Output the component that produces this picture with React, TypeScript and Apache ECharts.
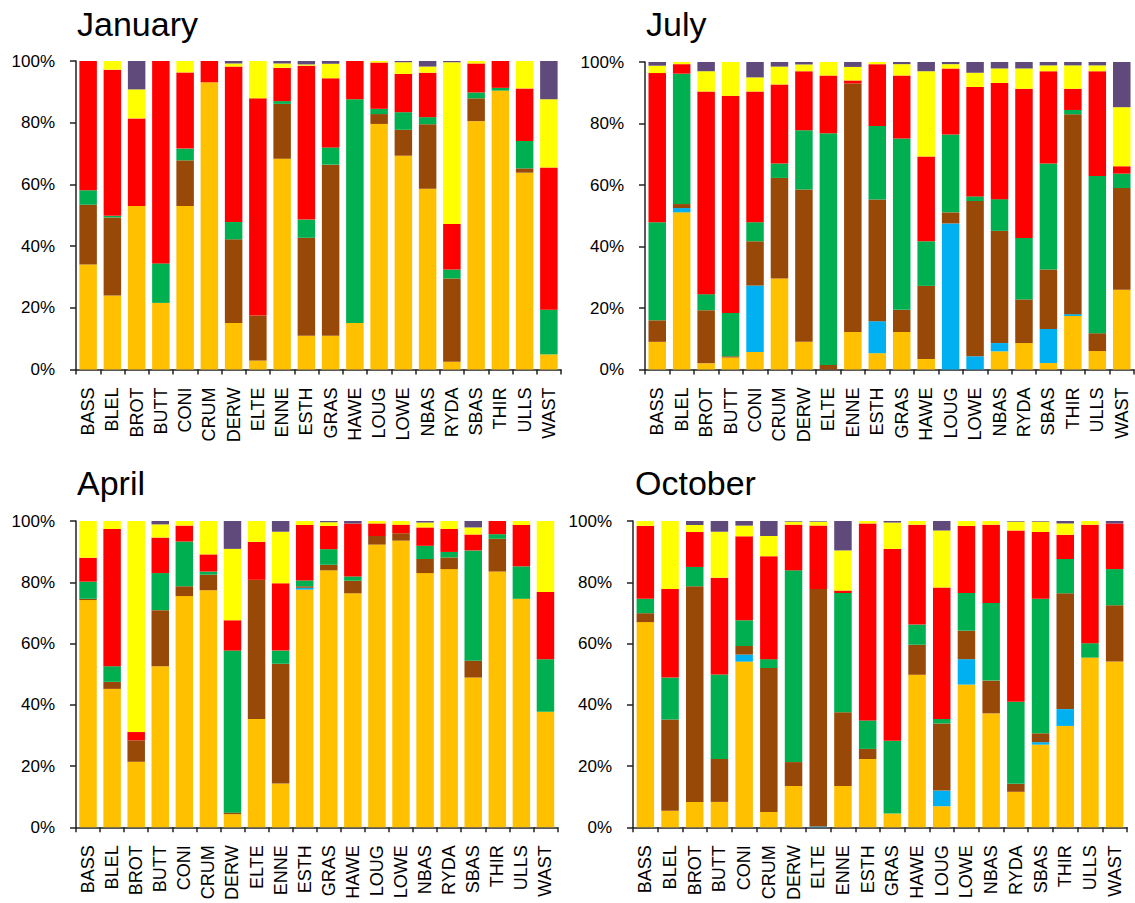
import React, { useEffect, useRef } from "react";
import * as echarts from "echarts";

const categories = ["BASS","BLEL","BROT","BUTT","CONI","CRUM","DERW","ELTE","ENNE","ESTH","GRAS","HAWE","LOUG","LOWE","NBAS","RYDA","SBAS","THIR","ULLS","WAST"];
const monthTitles = ["January", "July", "April", "October"];
const yTicks = [0, 20, 40, 60, 80, 100];
const seriesColors = ["#FFC000", "#00B0F0", "#984807", "#00B050", "#FF0000", "#FFFF00", "#604A7B"];

// January (segment shares, %)
const janOrange = [34,24,53,21.6,53,93.1,15.1,2.9,68.3,10.9,10.9,15.1,79.6,69.3,58.6,2.5,80.5,90.4,63.8,4.9];
const janBlue   = [0,0,0,0,0,0,0,0,0,0,0,0,0,0,0,0,0,0,0,0];
const janBrown  = [19.4,25.3,0,0,14.8,0,27.1,14.6,17.8,31.8,55.5,0,3.2,8.4,20.9,27,7.4,0,1.4,0];
const janGreen  = [4.7,0.5,0,12.8,3.8,0,5.6,0,0.9,5.9,5.6,72.5,1.7,5.7,2.3,2.9,1.9,0.9,8.9,14.5];
const janRed    = [41.9,47.4,28.4,65.6,24.7,6.9,50.4,70.4,10.8,49.9,22.4,12.4,15,12.4,14.4,14.8,9.4,8.7,17,46.1];
const janYellow = [0,2.8,9.4,0,3.7,0,1,12.1,1.4,0.4,4.7,0,0.5,3.8,2,52.4,0.8,0,8.9,22.1];
const janPurple = [0,0,9.2,0,0,0,0.8,0,0.8,1.1,0.9,0,0,0.4,1.8,0.4,0,0,0,12.4];

// July
const julOrange = [9,51.1,2,3.9,5.7,29.6,9,0,12.2,5.3,12.2,3.4,0,0,5.9,8.6,2.1,17.4,6,25.9];
const julBlue   = [0,1.4,0,0,21.6,0,0,0,0,10.4,0,0,47.5,4.3,2.7,0,11.1,0.6,0,0];
const julBrown  = [7,1.3,17.3,0.4,14.4,32.7,49.5,1.5,80.8,39.6,7.2,23.8,3.6,50.5,36.5,14.2,19.3,65,5.8,33.1];
const julGreen  = [31.9,42.4,5.2,14.1,6.2,4.7,19.3,75.3,0,23.9,55.7,14.5,25.3,1.5,10.3,20,34.5,1.4,51.1,4.7];
const julRed    = [48.5,3.1,65.9,70.6,42.5,25.7,19.2,18.8,1,20.1,20.5,27.6,21.5,35.6,37.8,48.5,30,6.9,34.1,2.4];
const julYellow = [2.4,0.7,6.6,11,4.6,5.8,2.2,4.4,4.4,0.7,3.7,27.7,1.4,4.6,4.7,6.6,1.9,7.6,1.9,19.2];
const julPurple = [1.2,0,3,0,5,1.5,0.8,0,1.6,0,0.7,3,0.7,3.5,2.1,2.1,1.1,1.1,1.1,14.7];

// April
const aprOrange = [74.2,45.2,21.4,52.6,75.5,77.4,4.3,35.4,14.3,77.6,83.9,76.4,92.3,93.6,83,84.3,48.9,83.5,74.6,37.7];
const aprBlue   = [0,0,0,0,0,0,0,0,0,0.6,0,0,0,0,0,0,0,0,0,0];
const aprBrown  = [0.4,2.3,7,18.3,3.2,5.1,0.5,45.4,39.1,0.5,1.8,4.1,2.8,2.4,4.6,3.8,5.5,10.7,0,0];
const aprGreen  = [5.6,5.1,0,12.1,14.6,1,52.9,0,4.3,1.9,5.1,1.4,0,0,4.3,1.8,36,1.5,10.6,17.2];
const aprRed    = [7.8,44.8,2.7,11.6,5.2,5.6,9.9,12.4,22,18.1,7.6,17.3,4.1,2.8,6,7.5,5.2,4.3,13.5,21.9];
const aprYellow = [12,2.6,68.9,4.3,1.5,10.9,23.3,6.8,16.8,1.3,1.2,0,0.8,1.2,1.6,2.6,2.3,0,1.3,23.2];
const aprPurple = [0,0,0,1.1,0,0,9.1,0,3.5,0,0.4,0.8,0,0,0.5,0,2.1,0,0,0];

// October
const octOrange = [67,5.4,8.3,8.3,54.1,5,13.5,0,13.5,22.3,4.5,49.8,6.9,46.6,37.2,11.6,27,33.1,55.4,54.1];
const octBlue   = [0,0,0,0,2.3,0,0,0.3,0,0,0,0,5.1,8.3,0,0,0.8,5.5,0,0];
const octBrown  = [2.9,29.8,70.4,14,2.8,47,7.8,77.5,24.1,3.3,0,9.8,21.9,9.3,10.7,2.6,2.9,37.8,0,18.4];
const octGreen  = [4.7,13.7,6.3,27.6,8.4,2.9,62.6,0,38.9,9.3,23.8,6.6,1.5,12.3,25.3,26.8,43.9,11.2,4.7,11.8];
const octRed    = [23.8,28.9,11.4,31.6,27.4,33.6,14.9,20.7,0.8,64.3,62.6,32.6,42.9,21.9,25.6,55.9,21.8,7.9,38.7,14.9];
const octYellow = [1.6,22.2,2.3,15,3.5,6.6,1,1.3,13.1,0.8,8.6,1.2,18.6,1.6,1.2,2.9,3.4,3.7,1.2,0];
const octPurple = [0,0,1.3,3.5,1.5,4.9,0.2,0.2,9.6,0,0.5,0,3.1,0,0,0.2,0.2,0.8,0,0.8];

const panels = [
  [janOrange, janBlue, janBrown, janGreen, janRed, janYellow, janPurple],
  [julOrange, julBlue, julBrown, julGreen, julRed, julYellow, julPurple],
  [aprOrange, aprBlue, aprBrown, aprGreen, aprRed, aprYellow, aprPurple],
  [octOrange, octBlue, octBrown, octGreen, octRed, octYellow, octPurple],
];

const FONT = "'Liberation Sans', Arial, sans-serif";

export default function App() {
  const ref = useRef<HTMLDivElement>(null);
  useEffect(() => {
    if (!ref.current) return;
    const chart = echarts.init(ref.current, undefined, { renderer: "svg" });
    const grids = [
      { left: 76, top: 61, width: 485, height: 308.5 },
      { left: 645, top: 62, width: 489, height: 307.5 },
      { left: 76, top: 521, width: 481.5, height: 308 },
      { left: 633, top: 521, width: 494, height: 308 },
    ];
    const titlePos = [
      { x: 77, y: 24 },
      { x: 646, y: 24 },
      { x: 77, y: 483 },
      { x: 635, y: 483 },
    ];
    const xAxis = grids.map((_, i) => ({
      type: "category",
      gridIndex: i,
      data: categories,
      axisLine: { show: true, lineStyle: { color: "#222", width: 1.5 } },
      axisTick: { show: true, interval: 0, length: 5, lineStyle: { color: "#222", width: 1.5 } },
      axisLabel: { interval: 0, rotate: 90, fontSize: 18, color: "#000", fontFamily: FONT, margin: 18 },
    }));
    const yAxis = grids.map((_, i) => ({
      type: "value",
      gridIndex: i,
      min: yTicks[0],
      max: yTicks[yTicks.length - 1],
      interval: 20,
      splitLine: { show: false },
      axisLine: { show: true, lineStyle: { color: "#222", width: 1.5 } },
      axisTick: { show: true, length: 6, lineStyle: { color: "#222", width: 1.5 } },
      axisLabel: { formatter: "{value}%", fontSize: 17, color: "#000", fontFamily: FONT, margin: 21 },
    }));
    const series: any[] = [];
    panels.forEach((panel, i) => {
      panel.forEach((data, s) => {
        series.push({
          type: "bar",
          xAxisIndex: i,
          yAxisIndex: i,
          stack: "p" + i,
          barWidth: 17.5,
          data,
          itemStyle: { color: seriesColors[s] },
        });
      });
    });
    chart.setOption({
      animation: false,
      backgroundColor: "#fff",
      grid: grids,
      xAxis,
      yAxis,
      series,
      graphic: monthTitles.map((t, i) => ({
        type: "text",
        x: titlePos[i].x,
        y: titlePos[i].y,
        style: { text: t, fontSize: 34, fill: "#000", fontFamily: FONT, verticalAlign: "middle", align: "left" },
      })),
    });
    return () => chart.dispose();
  }, []);
  return <div ref={ref} style={{ position: "fixed", left: 0, top: 0, width: 1135, height: 903 }} />;
}
